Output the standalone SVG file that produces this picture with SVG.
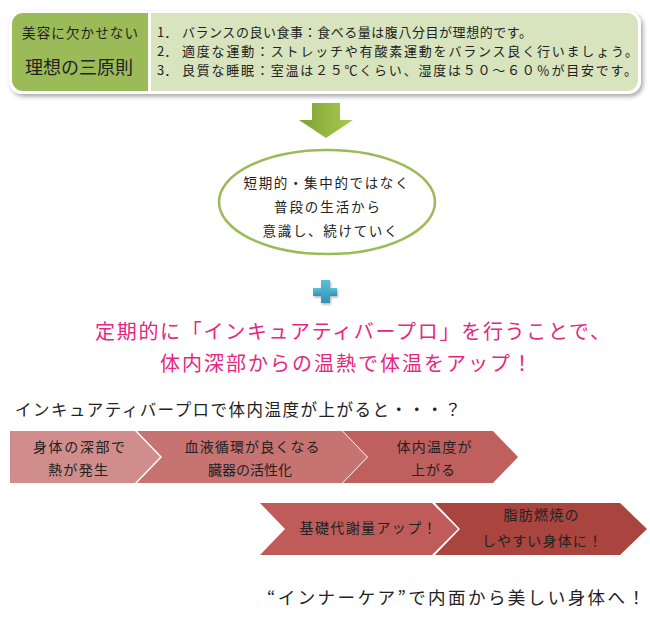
<svg xmlns="http://www.w3.org/2000/svg" width="650" height="620" viewBox="0 0 650 620">
<style>
text{font-family:"Noto Sans CJK JP","Noto Sans",sans-serif;fill:#222}
.t13{font-size:13px}
.t14{font-size:14px}
.pink{font-size:20px;fill:#e5277f}
.mid{text-anchor:middle}
</style>
<defs>
<filter id="shadow" x="-5%" y="-20%" width="110%" height="150%">
<feDropShadow dx="2" dy="2.5" stdDeviation="2" flood-color="#000" flood-opacity="0.35"/>
</filter>
<filter id="soft" x="-30%" y="-30%" width="160%" height="160%">
<feDropShadow dx="1" dy="1.5" stdDeviation="1" flood-color="#000" flood-opacity="0.3"/>
</filter>
<linearGradient id="garrow" x1="0" y1="0" x2="1" y2="0">
<stop offset="0" stop-color="#7fa034"/>
<stop offset="1" stop-color="#a9cc50"/>
</linearGradient>
<linearGradient id="gplus" x1="0" y1="0" x2="0" y2="1">
<stop offset="0" stop-color="#5ec0dc"/>
<stop offset="1" stop-color="#2f92b4"/>
</linearGradient>
</defs>

<g id="principles" filter="url(#shadow)">
<rect x="9" y="11" width="632" height="83" rx="13" fill="#fff"/>
<path d="M23,13 H148 V91 H23 A11,11 0 0 1 12,80 V24 A11,11 0 0 1 23,13 Z" fill="#9bbb59"/>
<path d="M151,13 H627 A11,11 0 0 1 638,24 V80 A11,11 0 0 1 627,91 H151 Z" fill="#d7e4bd"/>
</g>
<g id="principles-text">
<text class="mid" x="80" y="38" font-size="13.5" textLength="116" lengthAdjust="spacing">美容に欠かせない</text>
<text class="mid" x="79" y="74" font-size="18" textLength="108" lengthAdjust="spacing">理想の三原則</text>
<text class="t13" x="157" y="37">1．</text>
<text class="t13" x="182" y="37" textLength="350" lengthAdjust="spacing">バランスの良い食事：食べる量は腹八分目が理想的です。</text>
<text class="t13" x="157" y="56">2．</text>
<text class="t13" x="182" y="56" textLength="456" lengthAdjust="spacing">適度な運動：ストレッチや有酸素運動をバランス良く行いましょう。</text>
<text class="t13" x="157" y="75">3．</text>
<text class="t13" x="182" y="75" textLength="455" lengthAdjust="spacing">良質な睡眠：室温は２５℃くらい、湿度は５０～６０％が目安です。</text>
</g>

<g id="connectors">
<polygon points="312,103 340,103 340,120 353,120 326,138 299,120 312,120" fill="url(#garrow)"/>
</g>

<g id="habit">
<ellipse cx="327" cy="202" rx="108" ry="52" fill="#fff" stroke="#9bbb59" stroke-width="2.5"/>
<text class="mid" x="326" y="188" font-size="13.5" textLength="165" lengthAdjust="spacing">短期的・集中的ではなく</text>
<text class="mid" x="327" y="212" font-size="13.5" textLength="106" lengthAdjust="spacing">普段の生活から</text>
<text class="mid" x="330" y="236" font-size="13.5" textLength="135" lengthAdjust="spacing">意識し、続けていく</text>
</g>

<g id="plus" filter="url(#soft)">
<rect x="313" y="288" width="24" height="8" fill="url(#gplus)"/>
<rect x="321" y="280" width="9" height="23" fill="url(#gplus)"/>
</g>

<g id="message">
<text class="pink" x="95" y="339" textLength="515" lengthAdjust="spacing">定期的に「インキュアティバープロ」を行うことで、</text>
<text class="pink" x="160" y="371" textLength="372" lengthAdjust="spacing">体内深部からの温熱で体温をアップ！</text>
</g>

<g id="heading">
<text x="15" y="416" font-size="16.5" textLength="446" lengthAdjust="spacing">インキュアティバープロで体内温度が上がると・・・？</text>
</g>

<g id="step1">
<polygon points="10,431 135,431 160,457 135,483 10,483" fill="#d18d8c"/>
<text class="t14 mid" x="79" y="452" textLength="92" lengthAdjust="spacing">身体の深部で</text>
<text class="t14 mid" x="78" y="475" textLength="60" lengthAdjust="spacing">熱が発生</text>
</g>
<g id="step2">
<polygon points="137,431 342,431 367,457 342,483 137,483 162,457" fill="#c77372"/>
<text class="t14 mid" x="252" y="452" textLength="135" lengthAdjust="spacing">血液循環が良くなる</text>
<text class="t14 mid" x="250" y="475" textLength="84" lengthAdjust="spacing">臓器の活性化</text>
</g>
<g id="step3">
<polygon points="343,431 493,431 518,457 493,483 343,483 368,457" fill="#bf605f"/>
<text class="t14 mid" x="434" y="452" textLength="75" lengthAdjust="spacing">体内温度が</text>
<text class="t14 mid" x="433" y="475" textLength="44" lengthAdjust="spacing">上がる</text>
</g>
<g id="step4">
<polygon points="260,503 432,503 458,529 432,555 260,555 285,529" fill="#bf5c5a"/>
<text class="t14 mid" x="368" y="533" textLength="137" lengthAdjust="spacing">基礎代謝量アップ！</text>
</g>
<g id="step5">
<polygon points="435,503 620,503 647,529 620,555 435,555 460,529" fill="#a9443f"/>
<text class="t14 mid" x="541" y="520" textLength="75" lengthAdjust="spacing">脂肪燃焼の</text>
<text class="t14 mid" x="542" y="546" textLength="120" lengthAdjust="spacing">しやすい身体に！</text>
</g>

<g id="conclusion">
<text x="267" y="604" font-size="17.5" textLength="378" lengthAdjust="spacing">“インナーケア”で内面から美しい身体へ！</text>
</g>
</svg>
